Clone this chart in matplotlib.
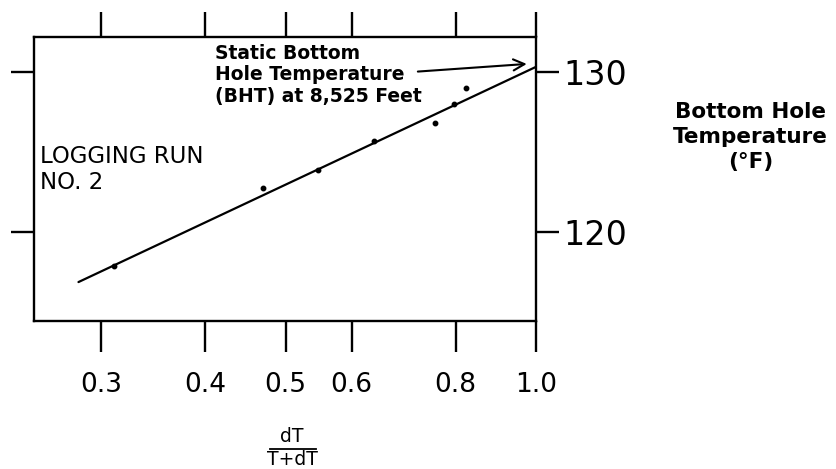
#!/usr/bin/env python3
"""Horner-style plot: bottom hole temperature vs dT/(T+dT), logging run no. 2."""

import matplotlib.pyplot as plt
from matplotlib.lines import Line2D

# Measured points
ratio = [0.311, 0.469, 0.547, 0.638, 0.755, 0.796, 0.822]
temp_f = [117.9, 122.8, 123.9, 125.7, 126.8, 128.0, 129.0]

# Extrapolated straight line (semi-log)
line_ratio = [0.282, 1.0]
line_temp = [116.9, 130.35]

x_ticks = [0.3, 0.4, 0.5, 0.6, 0.8, 1.0]
x_tick_labels = ["0.3", "0.4", "0.5", "0.6", "0.8", "1.0"]
y_ticks = [120, 130]
y_tick_labels = ["120", "130"]

plt.rcParams["font.family"] = ["DejaVu Sans"]

fig = plt.figure(figsize=(8.36, 4.69), dpi=100)
ax = fig.add_axes([0.0407, 0.3156, 0.6010, 0.6055])

ax.plot(line_ratio, line_temp, color="black", lw=1.6, solid_capstyle="round")
ax.plot(ratio, temp_f, "o", color="black", ms=3.2)

ax.set_xscale("log")
ax.set_xlim(0.2494, 1.0)
ax.set_ylim(114.47, 132.2)

ax.set_xticks(x_ticks)
ax.set_xticklabels(x_tick_labels, fontsize=19)
ax.xaxis.set_minor_locator(plt.NullLocator())
ax.set_yticks(y_ticks)
ax.set_yticklabels(y_tick_labels, fontsize=24)

ax.tick_params(axis="x", which="major", direction="out", top=True, bottom=True,
               length=22, width=1.7, pad=15)
ax.xaxis.set_tick_params(which="major", labeltop=False)
ax.tick_params(axis="y", direction="out", left=True, right=True,
               labelleft=False, labelright=True, length=16.5, width=1.7, pad=3)

for side in ax.spines.values():
    side.set_linewidth(1.7)

# Top ticks are a little shorter than bottom ticks
for tick in ax.xaxis.get_major_ticks():
    tick.tick2line.set_markersize(18)

ax.text(0.012, 0.62, "LOGGING RUN\nNO. 2", transform=ax.transAxes,
        fontsize=16.5, va="top", ha="left", linespacing=1.15)

ax.text(0.36, 0.977, "Static Bottom\nHole Temperature\n(BHT) at 8,525 Feet",
        transform=ax.transAxes, fontsize=13.5, fontweight="bold",
        va="top", ha="left", linespacing=1.17)
ax.annotate("", xy=(0.981, 130.53), xytext=(0.715, 130.03),
            arrowprops=dict(arrowstyle="->", lw=1.5, color="black",
                            mutation_scale=20))

fig.text(0.898, 1 - 137 / 469, "Bottom Hole\nTemperature\n(°F)", fontsize=15.5,
         fontweight="bold", ha="center", va="center", multialignment="center",
         linespacing=1.3)

# x-axis label drawn as a fraction
fig.text(292 / 836, 1 - 437 / 469, "dT", fontsize=13.5, ha="center", va="center")
fig.text(292 / 836, 1 - 459 / 469, "T+dT", fontsize=13.5, ha="center", va="center")
fig.add_artist(Line2D([270 / 836, 316 / 836], [1 - 449 / 469, 1 - 449 / 469],
                      color="black", lw=1.3, transform=fig.transFigure))

fig.savefig("out.png", dpi=100)
